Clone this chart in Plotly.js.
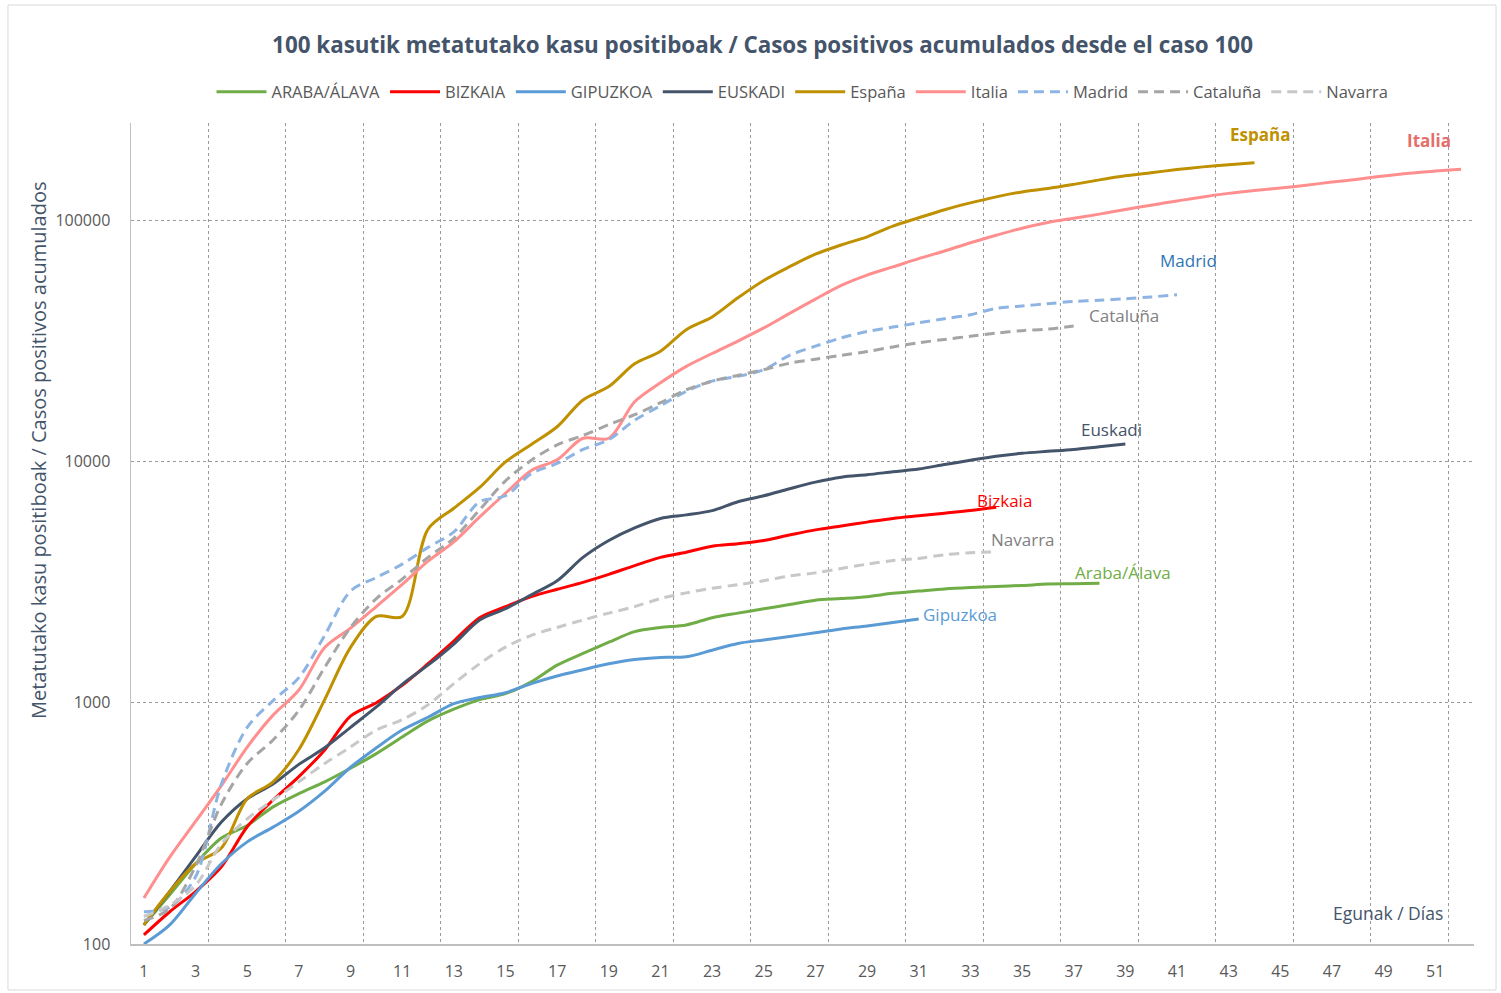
<!DOCTYPE html>
<html><head><meta charset="utf-8">
<script src="https://cdn.plot.ly/plotly-3.0.1.min.js"></script>
<style>html,body{margin:0;padding:0;background:#fff}#chart{width:1501px;height:993px}</style>
</head><body><div id="chart"></div>
<script>
const days = [1,2,3,4,5,6,7,8,9,10,11,12,13,14,15,16,17,18,19,20,21,22,23,24,25,26,27,28,29,30,31,32,33,34,35,36,37,38,39,40,41,42,43,44,45,46,47,48,49,50,51,52];
const araba = [120,160,215,275,310,370,420,470,535,615,720,840,940,1030,1090,1220,1430,1600,1780,1970,2050,2100,2250,2350,2450,2550,2660,2700,2750,2840,2900,2960,3000,3030,3060,3100,3110,3125];
const bizkaia = [109,136,165,209,306,395,494,637,880,1000,1180,1450,1800,2250,2500,2750,2950,3150,3400,3700,4000,4200,4450,4560,4700,4950,5200,5400,5600,5800,5950,6100,6250,6450];
const gipuzkoa = [100,120,162,215,265,305,355,430,540,650,770,870,990,1050,1100,1200,1290,1370,1450,1510,1540,1550,1650,1760,1820,1880,1950,2020,2080,2150,2223];
const euskadi = [120,165,230,320,400,460,555,650,790,960,1190,1430,1750,2200,2450,2800,3200,4000,4700,5300,5800,6000,6250,6800,7200,7700,8200,8600,8800,9050,9300,9700,10100,10500,10800,11000,11200,11500,11800];
const espana = [120,165,215,250,400,470,640,1030,1695,2277,2277,5232,6391,7798,9942,11748,13910,17963,20410,25374,28603,35136,39673,47610,56188,64059,72248,78797,85195,94417,102136,110238,117710,124736,130759,135032,140510,146690,152446,157022,161852,166019,169496,172541];
const italia = [155,229,322,453,655,888,1128,1694,2036,2502,3089,3858,4636,5883,7375,9172,10149,12462,12462,17660,21157,24747,27980,31506,35713,41035,47021,53578,59138,63927,69176,74386,80539,86498,92472,97689,101739,105792,110574,115242,119827,124632,128948,132547,135586,139422,143626,147577,152271,156363,159516,162488];
const madrid = [136,142,190,460,790,1020,1270,1900,2900,3300,3750,4400,5100,6800,7200,8900,9800,11200,12300,14800,17000,19500,21500,22500,24000,27500,30000,32500,34500,36000,37500,39000,40500,43000,44000,45000,46000,46500,47200,48000,49000];
const cataluna = [125,140,210,380,560,700,930,1400,2050,2700,3250,4000,4800,6300,8300,10100,11700,12800,14200,15600,17500,19800,21500,22700,24000,25500,26500,27500,28500,29800,31000,32000,33000,34000,34800,35300,36400];
const navarra = [130,145,175,260,330,395,470,560,655,770,850,980,1200,1450,1700,1900,2050,2200,2350,2500,2700,2850,2980,3080,3200,3350,3450,3600,3750,3880,3960,4100,4180,4220];

const legendNames = ['ARABA/ÁLAVA','BIZKAIA','GIPUZKOA','EUSKADI','España','Italia','Madrid','Cataluña','Navarra'];
const endLabels = ['Araba/Álava','Bizkaia','Gipuzkoa','Euskadi','España','Italia','Madrid','Cataluña','Navarra'];
const yTickVals = [100,1000,10000,100000];
const yTickText = ['100','1000','10000','100000'];
const xTickVals = [1,3,5,7,9,11,13,15,17,19,21,23,25,27,29,31,33,35,37,39,41,43,45,47,49,51];

const seriesData = [araba,bizkaia,gipuzkoa,euskadi,espana,italia,madrid,cataluna,navarra];
const styles = [
  {color:'#70AD47', dash:'solid'},
  {color:'#FF0000', dash:'solid'},
  {color:'#5B9BD5', dash:'solid'},
  {color:'#44546A', dash:'solid'},
  {color:'#BF9000', dash:'solid'},
  {color:'#FF8F8F', dash:'solid'},
  {color:'#8EB4E3', dash:'10px,6px'},
  {color:'#A5A5A5', dash:'10px,6px'},
  {color:'#C8C8C8', dash:'10px,6px'}
];
const labelStyle = [
  {color:'#70AD47', bold:false, xs:23, ys:11},
  {color:'#FF0000', bold:false, xs:8, ys:7},
  {color:'#5B9BD5', bold:false, xs:41, ys:4},
  {color:'#44546A', bold:false, xs:-14, ys:15},
  {color:'#BF9000', bold:true, xs:6, ys:28},
  {color:'#E46E6A', bold:true, xs:-32, ys:29},
  {color:'#2E75B6', bold:false, xs:12, ys:34},
  {color:'#7F7F7F', bold:false, xs:50, ys:10},
  {color:'#7F7F7F', bold:false, xs:27, ys:12}
];

const traces = seriesData.map((vals, i) => ({
  type:'scatter', mode:'lines', name: legendNames[i],
  x: days.slice(0, vals.length), y: vals,
  line:{color:styles[i].color, width:3, dash:styles[i].dash, shape:'spline', smoothing:0.9},
  hoverinfo:'x+y+name'
}));

const annotations = seriesData.map((vals, i) => ({
  x: days[vals.length-1], y: Math.log10(vals[vals.length-1]),
  xref:'x', yref:'y', text: labelStyle[i].bold ? '<b>'+endLabels[i]+'</b>' : endLabels[i],
  showarrow:false, xanchor:'center', yanchor:'middle',
  xshift: labelStyle[i].xs, yshift: labelStyle[i].ys,
  font:{family:'Open Sans, sans-serif', size:17, color:labelStyle[i].color}
}));
annotations.push({
  xref:'paper', yref:'paper', x:0.936, y:0.0378, text:'Egunak / Días', showarrow:false,
  xanchor:'center', yanchor:'middle',
  font:{family:'Open Sans, sans-serif', size:17.5, color:'#44546A'}
});
annotations.push({
  xref:'paper', yref:'paper', x:-0.0692, y:0.6017, textangle:-90,
  text:'Metatutako kasu positiboak / Casos positivos acumulados', showarrow:false,
  xanchor:'center', yanchor:'middle',
  font:{family:'Open Sans, sans-serif', size:20, color:'#44546A'}
});

const layout = {
  width:1501, height:993,
  margin:{l:131, r:27, t:123, b:49},
  paper_bgcolor:'#fff', plot_bgcolor:'#fff',
  font:{family:'Open Sans, sans-serif', color:'#595959'},
  title:{text:'<b>100 kasutik metatutako kasu positiboak / Casos positivos acumulados desde el caso 100</b>',
    x:0.508, xref:'container', xanchor:'center', y:0.9547, yref:'container', yanchor:'middle',
    font:{family:'Open Sans, sans-serif', size:22.4, color:'#44546A'}},
  showlegend:true,
  legend:{orientation:'h', x:0.5, xanchor:'center', y:1.0378, yanchor:'middle',
    font:{family:'Open Sans, sans-serif', size:16.5, color:'#595959'}, itemwidth:50, tracegroupgap:0},
  xaxis:{range:[0.5,52.5], tickmode:'array', tickvals:xTickVals, ticktext:xTickVals.map(String),
    showgrid:false, zeroline:false, showline:true, linecolor:'#BFBFBF', linewidth:1.5,
    ticks:'', ticklabelstandoff:12, tickfont:{family:'Open Sans, sans-serif', size:16, color:'#595959'},
    minor:{tick0:0.5, dtick:3, showgrid:true, gridcolor:'#9A9A9A', gridwidth:1, griddash:'3px,3px', ticks:''}},
  yaxis:{type:'log', range:[2,5.402], tickmode:'array', tickvals:yTickVals, ticktext:yTickText,
    showgrid:true, gridcolor:'#9A9A9A', gridwidth:1, griddash:'3px,3px', zeroline:false,
    showline:true, linecolor:'#BFBFBF', linewidth:1.5, ticks:'', ticklabelstandoff:16,
    tickfont:{family:'Open Sans, sans-serif', size:16, color:'#595959'}},
  annotations: annotations,
  shapes:[{type:'rect', xref:'paper', yref:'paper', x0:-0.0916, x1:1.0164, y0:-0.056, y1:1.1437,
    line:{color:'#D9D9D9', width:1}, fillcolor:'rgba(0,0,0,0)', layer:'below'}]
};

Plotly.newPlot('chart', traces, layout, {displayModeBar:false, staticPlot:true});
</script></body></html>
